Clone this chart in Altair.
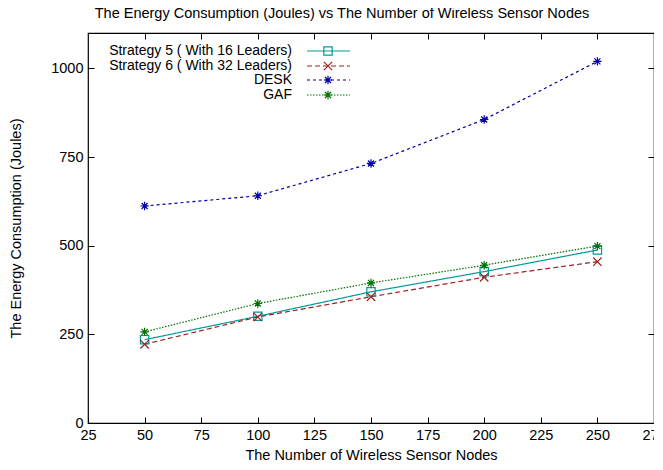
import altair as alt
import pandas as pd

nodes = [50, 100, 150, 200, 250]
series_names = ["Strategy 5 ( With 16 Leaders)", "Strategy 6 ( With 32 Leaders)", "DESK", "GAF"]
strategy5 = [235, 301, 370, 427, 488]
strategy6 = [222, 299, 356, 411, 455]
desk = [612, 641, 732, 856, 1020]
gaf = [257, 337, 395, 445, 499]

colors = ["#009999", "#a01f1f", "#0000a8", "#007000"]
dashes = [[1, 0], [5, 3], [3, 3], [1.5, 1.5]]
X_PATH = "M-1,-1L1,1M-1,1L1,-1"
STAR_PATH = "M-1,0L1,0M0,-1L0,1M-0.72,-0.72L0.72,0.72M-0.72,0.72L0.72,-0.72"
shapes = ["square", X_PATH, STAR_PATH, STAR_PATH]

rows = []
for name, vals in zip(series_names, [strategy5, strategy6, desk, gaf]):
    for n, v in zip(nodes, vals):
        rows.append({"nodes": n, "energy": v, "series": name})
df = pd.DataFrame(rows)

FONT = "Liberation Sans"
FS = 14.5
W, H = 566, 390

xscale = alt.Scale(domain=[25, 275], nice=False)
yscale = alt.Scale(domain=[0, 1100], nice=False)

x_bottom = alt.X("nodes:Q", scale=xscale,
                 axis=alt.Axis(title="The Number of Wireless Sensor Nodes", values=list(range(25, 276, 25)),
                               format="d", orient="bottom", offset=-6, tickSize=6, domain=False, grid=False,
                               labelFlush=False, labelOverlap=False,
                               labelPadding=5, titlePadding=7, labelFontSize=FS, titleFontSize=FS,
                               labelFont=FONT, titleFont=FONT, titleFontWeight="normal",
                               tickColor="black", labelColor="black", titleColor="black"))
y_left = alt.Y("energy:Q", scale=yscale,
               axis=alt.Axis(title="The Energy Consumption (Joules)", values=[0, 250, 500, 750, 1000],
                             format="d", orient="left", offset=-6, tickSize=6, domain=False, grid=False,
                             labelFlush=False,
                             labelPadding=5, titlePadding=27, labelFontSize=FS, titleFontSize=FS,
                             labelFont=FONT, titleFont=FONT, titleFontWeight="normal",
                             tickColor="black", labelColor="black", titleColor="black"))

color_enc = alt.Color("series:N", scale=alt.Scale(domain=series_names, range=colors), legend=None)
dash_enc = alt.StrokeDash("series:N", scale=alt.Scale(domain=series_names, range=dashes), legend=None)
shape_enc = alt.Shape("series:N", scale=alt.Scale(domain=series_names, range=shapes), legend=None)

lines = alt.Chart(df).mark_line(strokeWidth=1.2).encode(
    x=x_bottom, y=y_left, color=color_enc, strokeDash=dash_enc, detail="series:N")

points = alt.Chart(df).mark_point(filled=False, size=70, strokeWidth=1.2, opacity=1).encode(
    x=alt.X("nodes:Q", scale=xscale,
            axis=alt.Axis(title=None, orient="top", offset=-6, tickSize=6, labels=False, domain=False,
                          grid=False, values=[50, 75, 100, 125, 150, 175, 200, 225, 250], tickColor="black")),
    y=alt.Y("energy:Q", scale=yscale,
            axis=alt.Axis(title=None, orient="right", offset=-6, tickSize=6, labels=False, domain=False,
                          grid=False, values=[250, 500, 750, 1000], tickColor="black")),
    color=color_enc, shape=shape_enc)

# gnuplot-style key (top-left): label, then line sample with marker
key_layers = []
TEXT_RIGHT, LINE_X1, LINE_X2, MARK_X = 204, 219, 262, 240
row_y = [18, 33, 47, 62]
for name, col, dsh, shp, yy in zip(series_names, colors, dashes, shapes, row_y):
    one = alt.Chart(pd.DataFrame({"series": [name]}))
    key_layers.append(one.mark_text(align="right", baseline="middle", font=FONT, fontSize=14, color="black").encode(
        text="series:N", x=alt.value(TEXT_RIGHT), y=alt.value(yy)))
    key_layers.append(one.mark_rule(strokeWidth=1.2, color=col, strokeDash=dsh).encode(
        x=alt.value(LINE_X1), x2=alt.value(LINE_X2), y=alt.value(yy)))
    key_layers.append(one.mark_point(filled=False, size=70, strokeWidth=1.2, opacity=1, color=col, shape=shp).encode(
        x=alt.value(MARK_X), y=alt.value(yy)))

chart = alt.layer(lines, points, *key_layers).resolve_axis(x="independent", y="independent").properties(
    width=W, height=H,
    autosize=alt.AutoSizeParams(type="none"),
    padding={"left": 80, "top": 25, "right": 0, "bottom": 39},
    title=alt.TitleParams("The Energy Consumption (Joules) vs The Number of Wireless Sensor Nodes",
                          font=FONT, fontSize=FS, fontWeight="normal", color="black",
                          anchor="middle", dx=-29, offset=11),
    background="white",
).configure_view(stroke="black", strokeWidth=1.2)

chart.save("out.html", embed_options={"renderer": "svg", "actions": False})
